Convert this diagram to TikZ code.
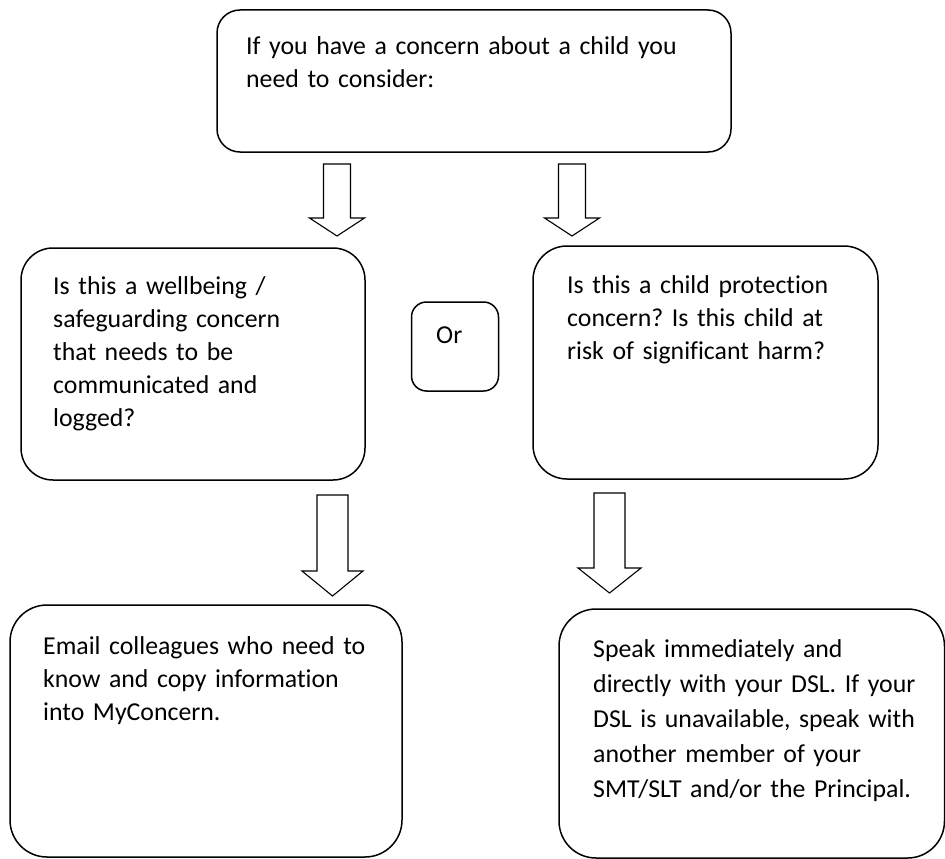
\documentclass[tikz,border=0pt]{standalone}
\usepackage{fontspec}
\setmainfont{Carlito}[Ligatures=NoCommon]
\usetikzlibrary{calc}
\frenchspacing
\tikzset{
  panel/.style={draw, line width=1.5pt},
  blurb/.style={anchor=base west, inner sep=0pt, text width=#1, align=left, font=\fontsize{25.8}{33}\selectfont},
  blurb/.default=480pt,
  arrowline/.style={draw, line width=1.1pt, line join=miter, fill=white},
}
\begin{document}
\begin{tikzpicture}[x=1pt, y=-1pt]
  \useasboundingbox (0,0) rectangle (945,859);
  \fill[white] (0,0) rectangle (945,859);
  \clip (0,0) rectangle (945,859);
  % boxes
  \node[panel, rounded corners=23pt, minimum width=514pt, minimum height=142pt] (start) at (474,81) {};
  \node[panel, rounded corners=32pt, minimum width=344pt, minimum height=232pt] (wellbeing) at (193,364) {};
  \node[panel, rounded corners=15pt, minimum width=87pt, minimum height=89pt] (orbox) at (455,346.5) {};
  \node[panel, rounded corners=34pt, minimum width=345pt, minimum height=233pt] (protection) at (705.5,362.5) {};
  \node[panel, rounded corners=37pt, minimum width=392pt, minimum height=252pt] (email) at (206,731) {};
  \node[panel, rounded corners=37pt, minimum width=385.5pt, minimum height=249pt] (speak) at (751.75,733.5) {};
  % texts
  \node[blurb] (starttext) at (246,55) {If you have a concern about a child you\\need to consider:};
  \node[blurb] (wellbeingtext) at (53,294) {Is this a wellbeing /\\safeguarding concern\\that needs to be\\communicated and\\logged?};
  \node[blurb] (ortext) at (436,343) {Or};
  \node[blurb] (protectiontext) at (567,293) {Is this a child protection\\concern? Is this child at\\risk of significant harm?};
  \node[blurb] (emailtext) at (43,654) {Email colleagues who need to\\know and copy information\\into MyConcern.};
  \node[blurb, font=\fontsize{25.8}{35}\selectfont] (speaktext) at (593,657) {Speak immediately and\\directly with your DSL. If your\\DSL is unavailable, speak with\\another member of your\\SMT/SLT and/or the Principal.};
  % hollow arrows
  \coordinate (q1top) at (337,164);   \coordinate (q1tip) at (337,236);
  \coordinate (q2top) at (572,164);   \coordinate (q2tip) at (572,236);
  \coordinate (l1top) at (332.5,495); \coordinate (l1tip) at (332.5,596);
  \coordinate (l2top) at (609.5,493); \coordinate (l2tip) at (609.5,593);
  \foreach \st/\en/\sh/\hw/\hl in {q1top/q1tip/13.5/27.5/18, q2top/q2tip/13.5/27.5/18, l1top/l1tip/15.5/30.5/25, l2top/l2tip/15.5/31.5/25}{
    \draw[arrowline] let \p1=(\st), \p2=(\en) in
      (\x1-\sh pt,\y1) -- (\x1+\sh pt,\y1) -- (\x1+\sh pt,\y2+\hl pt) -- (\x1+\hw pt,\y2+\hl pt)
      -- (\x2,\y2) -- (\x1-\hw pt,\y2+\hl pt) -- (\x1-\sh pt,\y2+\hl pt) -- cycle;
  }
\end{tikzpicture}
\end{document}
